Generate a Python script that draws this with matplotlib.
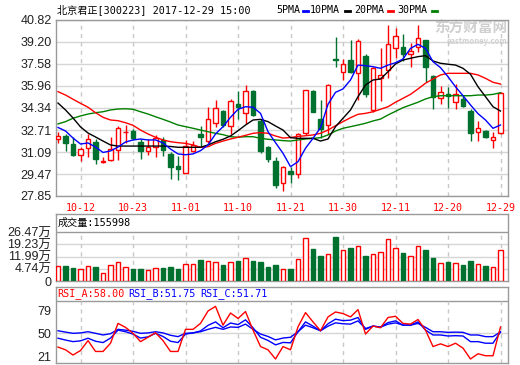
import matplotlib
matplotlib.use('Agg')
import matplotlib.pyplot as plt
from matplotlib.lines import Line2D
import numpy as np

plt.rcParams['font.family'] = ['Noto Sans CJK SC', 'DejaVu Sans']
MONO = ['DejaVu Sans Mono', 'Noto Sans CJK SC']
SANS = ['Liberation Sans', 'Noto Sans CJK SC']

# -----------------------------
# data
# -----------------------------
opens = [32.07, 32.27, 31.68, 30.85, 31.39, 31.85, 30.36, 30.50, 31.24, 32.53,
         32.66, 31.85, 31.19, 31.44, 31.98, 30.95, 30.06, 29.57, 31.19, 32.42,
         31.93, 33.26, 34.11, 33.01, 34.63, 33.94, 35.61, 33.40, 31.44, 30.45,
         28.78, 29.69, 29.45, 32.47, 35.59, 33.52, 33.08, 37.97, 37.01, 37.89,
         36.89, 38.19, 34.21, 36.52, 37.16, 38.78, 38.85, 38.29, 38.85, 39.32,
         36.69, 35.09, 35.34, 34.76, 35.00, 34.11, 32.55, 32.64, 31.98, 32.47]
closes = [32.27, 31.78, 30.90, 31.29, 32.03, 30.55, 30.40, 31.29, 32.86, 32.60,
          32.12, 31.19, 31.44, 32.12, 31.24, 30.01, 29.86, 31.53, 31.58, 32.22,
          33.54, 34.31, 33.06, 34.83, 34.43, 35.56, 33.84, 31.14, 30.55, 28.68,
          29.96, 29.49, 32.40, 35.64, 34.06, 32.78, 36.03, 37.89, 37.55, 37.01,
          39.27, 35.39, 37.31, 36.77, 39.07, 39.66, 38.29, 38.54, 39.47, 37.38,
          35.17, 35.54, 35.24, 35.39, 34.50, 32.47, 32.89, 32.22, 32.22, 35.42]
highs = [32.59, 32.42, 32.18, 31.44, 32.42, 32.07, 30.75, 32.18, 33.01, 33.05,
         32.80, 32.07, 32.03, 32.32, 32.18, 31.09, 30.80, 31.98, 31.88, 33.01,
         34.43, 34.92, 34.19, 34.97, 35.61, 36.05, 35.66, 33.50, 31.53, 30.75,
         30.06, 30.01, 32.47, 35.68, 35.68, 34.92, 36.08, 39.57, 37.95, 39.32,
         39.42, 38.29, 37.38, 38.73, 40.45, 40.21, 39.81, 39.13, 40.45, 39.37,
         36.77, 35.98, 35.91, 36.08, 35.20, 34.26, 33.38, 32.71, 32.54, 35.49]
lows = [31.73, 31.19, 30.80, 30.45, 30.75, 30.21, 30.26, 30.45, 30.50, 31.73,
        31.98, 30.60, 30.87, 30.75, 30.80, 29.08, 29.06, 29.52, 31.09, 31.44,
        31.78, 32.96, 32.96, 32.42, 33.50, 33.16, 33.75, 31.04, 30.36, 28.42,
        28.24, 28.78, 29.15, 32.35, 34.02, 32.10, 32.40, 37.38, 36.38, 36.89,
        34.92, 35.17, 34.02, 34.85, 36.52, 38.00, 37.80, 37.38, 38.48, 36.27,
        34.26, 34.61, 34.31, 34.26, 34.41, 31.90, 31.90, 32.15, 31.41, 32.44]

ma5 = [32.90, 32.64, 32.12, 31.68, 31.76, 31.46, 31.06, 31.17, 31.46, 31.83,
       31.98, 32.05, 31.98, 31.98, 31.76, 31.31, 30.95, 30.89, 30.95, 31.19,
       31.61, 32.42, 32.96, 33.65, 34.24, 34.43, 34.39, 33.94, 32.59, 31.78,
       31.00, 30.01, 30.38, 31.37, 32.10, 32.88, 34.61, 35.49, 35.74, 36.40,
       37.50, 37.45, 37.38, 37.26, 37.50, 37.67, 37.95, 38.73, 39.03, 38.73,
       37.75, 37.31, 36.64, 35.90, 35.24, 34.56, 33.92, 33.45, 32.84, 33.08]
ma10 = [34.70, 34.19, 33.60, 32.94, 32.49, 32.20, 31.90, 31.61, 31.53, 31.53,
        31.53, 31.53, 31.53, 31.53, 31.53, 31.50, 31.44, 31.44, 31.44, 31.44,
        31.61, 31.85, 32.03, 32.27, 32.66, 33.08, 33.45, 33.50, 33.33, 33.01,
        32.71, 32.15, 32.10, 32.10, 32.10, 31.90, 32.05, 32.96, 33.58, 34.19,
        35.17, 36.03, 36.40, 36.47, 37.01, 37.58, 37.87, 38.00, 38.12, 38.19,
        37.80, 37.63, 37.56, 37.50, 37.26, 36.82, 35.90, 35.17, 34.43, 34.11]
ma20 = [35.54, 35.29, 34.98, 34.68, 34.39, 33.99, 33.65, 33.45, 33.40, 33.25,
        33.06, 32.71, 32.42, 32.18, 31.98, 31.85, 31.78, 31.73, 31.61, 31.44,
        31.48, 31.73, 31.90, 32.05, 32.18, 32.32, 32.47, 32.52, 32.47, 32.27,
        32.12, 32.16, 32.24, 32.29, 32.35, 32.47, 32.71, 33.03, 33.33, 33.62,
        33.87, 33.94, 34.06, 34.24, 34.43, 34.76, 35.05, 35.34, 35.74, 36.16,
        36.47, 36.77, 36.89, 36.89, 36.89, 36.89, 36.77, 36.52, 36.23, 36.10]
ma30 = [33.16, 33.33, 33.58, 33.75, 33.89, 33.99, 34.06, 34.19, 34.26, 34.28,
        34.24, 34.06, 33.89, 33.69, 33.50, 33.30, 33.08, 32.96, 32.84, 32.71,
        32.59, 32.47, 32.37, 32.22, 32.18, 32.22, 32.22, 32.10, 32.03, 31.98,
        31.93, 31.90, 31.98, 32.05, 32.10, 32.15, 32.35, 32.64, 32.84, 32.96,
        33.08, 33.21, 33.38, 33.52, 33.82, 34.09, 34.36, 34.56, 34.76, 35.00,
        35.17, 35.24, 35.24, 35.24, 35.24, 35.24, 35.29, 35.29, 35.34, 35.46]

# volume in 万 (10k shares)
volumes = [6.22, 6.22, 5.03, 4.44, 6.63, 5.63, 2.48, 7.23, 9.01, 6.04,
           4.44, 4.44, 3.84, 5.45, 5.03, 5.63, 4.44, 7.82, 7.41, 9.78,
           9.60, 9.01, 6.81, 9.01, 9.19, 11.38, 9.19, 8.59, 5.63, 6.81,
           4.85, 4.44, 10.79, 22.67, 16.31, 12.16, 13.76, 23.62, 16.14, 16.91,
           17.92, 12.16, 13.76, 14.95, 22.07, 17.32, 13.94, 12.57, 17.92, 15.72,
           10.97, 8.00, 8.59, 8.00, 6.81, 9.19, 7.41, 6.22, 5.63, 15.60]

rsi_a = [32.6, 29.2, 22.6, 28.3, 40.8, 27.1, 27.1, 37.5, 62.5, 57.5,
         50.0, 39.5, 45.0, 50.7, 40.8, 27.1, 27.1, 55.0, 55.0, 62.5,
         78.1, 84.0, 60.3, 75.6, 68.7, 77.4, 54.1, 33.3, 29.2, 17.6,
         33.3, 29.2, 58.2, 76.1, 64.4, 53.2, 70.7, 76.9, 74.9, 70.7,
         79.9, 49.1, 59.1, 57.0, 69.9, 71.5, 62.5, 61.6, 67.4, 54.1,
         33.3, 36.7, 33.3, 37.5, 31.3, 17.6, 24.2, 21.7, 21.7, 58.00]
rsi_b = [43.8, 41.5, 39.5, 40.5, 43.8, 40.0, 38.3, 44.0, 54.0, 52.0,
         49.0, 44.0, 45.5, 50.0, 46.0, 40.0, 38.3, 49.0, 50.5, 53.0,
         60.0, 64.4, 57.0, 63.0, 61.0, 67.0, 57.0, 45.0, 41.0, 35.4,
         38.5, 38.0, 52.0, 64.4, 59.0, 53.2, 62.0, 67.8, 66.0, 66.6,
         69.9, 55.0, 59.1, 57.8, 63.5, 65.7, 60.3, 60.3, 64.4, 54.1,
         47.9, 47.9, 46.6, 47.0, 46.6, 39.5, 39.5, 37.5, 37.5, 51.75]
rsi_c = [53.2, 51.5, 50.0, 50.5, 52.0, 50.0, 47.9, 49.5, 55.0, 54.0,
         52.5, 50.0, 50.5, 52.0, 50.5, 47.5, 45.8, 50.0, 50.5, 52.0,
         55.0, 57.5, 55.0, 58.0, 57.5, 61.6, 55.0, 49.1, 46.0, 41.7,
         44.0, 45.0, 52.0, 60.3, 57.0, 53.2, 59.0, 63.2, 62.0, 61.6,
         65.7, 56.0, 59.1, 57.8, 61.5, 63.2, 60.3, 60.3, 62.5, 57.5,
         52.0, 52.0, 51.2, 51.5, 51.2, 47.9, 47.9, 45.8, 45.8, 51.71]

date_labels = ['10-12', '10-23', '11-01', '11-10', '11-21', '11-30', '12-11', '12-20', '12-29']
date_idx = [3, 10, 17, 24, 31, 38, 45, 52, 59]
price_ticks = [40.82, 39.20, 37.58, 35.96, 34.34, 32.71, 31.09, 29.47, 27.85]
vol_ticks = [4.74, 11.99, 19.23, 26.47]
rsi_ticks = [21, 50, 79]

# -----------------------------
# style
# -----------------------------
RED = '#ff0000'
GREEN = '#00712e'
BLUE = '#0000ff'
MAGREEN = '#008000'
BORDER = '#9a9a9a'
GRID = '#d6d6d6'
VGRID = '#c8c8c8'
TXT = '#222222'

W, H = 520, 365
fig = plt.figure(figsize=(W / 100, H / 100), dpi=100)
fig.patch.set_facecolor('white')


def box(x0, y0, x1, y1):
    return [x0 / W, 1 - y1 / H, (x1 - x0) / W, (y1 - y0) / H]


def frame(a):
    for s in a.spines.values():
        s.set_color(BORDER)
        s.set_linewidth(1)
    a.tick_params(length=0, colors=TXT)


n = len(closes)
x = np.arange(n)
o = np.array(opens)
c = np.array(closes)
up = c >= o
edge = [RED if u else GREEN for u in up]
face = ['white' if u else GREEN for u in up]
XLIM = (-0.27, 60.0)

# -----------------------------
# price panel
# -----------------------------
ax = fig.add_axes(box(56, 20, 508, 196))
frame(ax)
ax.set_xlim(*XLIM)
ax.set_ylim(27.85, 40.82)
ax.set_yticks(price_ticks)
ax.set_yticklabels(['%.2f' % t for t in price_ticks], fontsize=9, family=SANS)
ax.yaxis.grid(True, color=GRID, lw=1)
ax.set_axisbelow(True)
for p in date_idx:
    ax.axvline(p, color=VGRID, lw=1, ls=(0, (3, 3)), zorder=0.6)
ax.set_xticks(date_idx)
ax.set_xticklabels(date_labels, color=RED, fontsize=7.2, family=MONO)
ax.tick_params(axis='x', pad=5)
ax.tick_params(axis='y', pad=3)

ax.vlines(x, lows, highs, colors=edge, lw=1, zorder=2)
body_lo = np.minimum(o, c)
body_h = np.maximum(np.abs(c - o), 0.03)
ax.bar(x, body_h, bottom=body_lo, width=0.62, color=face, edgecolor=edge,
       linewidth=1, zorder=3)

ax.plot(x, ma30, color=MAGREEN, lw=1, zorder=4)
ax.plot(x, ma20, color=RED, lw=1, zorder=4)
ax.plot(x, ma10, color='black', lw=1, zorder=4)
ax.plot(x, ma5, color=BLUE, lw=1, zorder=4)

# watermark
ax.text(507 / W, 1 - 28 / H, '东方财富网', transform=fig.transFigure, ha='right',
        va='center', fontsize=10.5, fontweight='bold', color='#d0d0d0', zorder=0.5)
ax.text(507 / W, 1 - 41 / H, 'eastmoney.com', transform=fig.transFigure, ha='right',
        va='center', fontsize=5.5, fontweight='bold', style='italic', color='#d0d0d0',
        zorder=0.5)

# title and legend
fig.text(57 / W, 1 - 10 / H, '北京君正[300223] 2017-12-29 15:00', va='center',
         fontsize=7.3, family=MONO, color='black')
legend = [('5PMA', 276, 303, BLUE), ('10PMA', 310, 345, 'black'),
          ('20PMA', 354, 388, RED), ('30PMA', 397, 432, MAGREEN)]
for name, tx, lx, col in legend:
    fig.text(tx / W, 1 - 10 / H, name, va='center', fontsize=7.2, family=MONO,
             color='black')
    fig.add_artist(Line2D([lx / W, (lx + 5) / W], [1 - 11 / H, 1 - 11 / H],
                          transform=fig.transFigure, color=col, lw=2))

# -----------------------------
# volume panel
# -----------------------------
VBOT = -2.51
axv = fig.add_axes(box(56, 214, 508, 281))
frame(axv)
axv.set_xlim(*XLIM)
axv.set_ylim(VBOT, 37.16)
axv.set_xticks([])
axv.set_yticks([VBOT] + vol_ticks)
axv.set_yticklabels(['0'] + ['%.2f万' % t for t in vol_ticks], fontsize=9, family=SANS)
for t in vol_ticks[:-1]:
    axv.axhline(t, color=GRID, lw=1, zorder=0.5)
axv.axhline(vol_ticks[-1], color=BORDER, lw=1, zorder=0.5)
axv.vlines(date_idx, VBOT, vol_ticks[-1], colors=VGRID, lw=1, linestyles=(0, (3, 3)),
           zorder=0.6)
vols = np.array(volumes)
axv.bar(x, vols - VBOT, bottom=VBOT, width=0.62, color=face, edgecolor=edge,
        linewidth=1, zorder=3)
axv.text(0.004, 31.8, '成交量:155998', fontsize=7.3, family=MONO, va='center',
         color='black', transform=axv.get_yaxis_transform())

# -----------------------------
# RSI panel
# -----------------------------
axr = fig.add_axes(box(56, 287, 508, 363))
frame(axr)
axr.set_xlim(*XLIM)
axr.set_ylim(12.55, 108.4)
axr.set_xticks([])
axr.set_yticks(rsi_ticks)
axr.set_yticklabels([str(t) for t in rsi_ticks], fontsize=9, family=SANS)
axr.axhline(50, color=GRID, lw=1, zorder=0.5)
axr.axhline(90.7, color=BORDER, lw=1, zorder=0.5)
axr.vlines(date_idx, 12.55, 90.7, colors=VGRID, lw=1, linestyles=(0, (3, 3)), zorder=0.6)
axr.plot(x, rsi_c, color=BLUE, lw=1, zorder=3)
axr.plot(x, rsi_b, color=BLUE, lw=1, zorder=3)
axr.plot(x, rsi_a, color=RED, lw=1, zorder=4)

hdr = [('RSI_A:58.00', 57, RED), ('RSI_B:51.75', 128, BLUE), ('RSI_C:51.71', 200, BLUE)]
for s, hx, col in hdr:
    fig.text(hx / W, 1 - 294 / H, s, va='center', fontsize=7.3, family=MONO, color=col)

fig.savefig('out.png', dpi=100)
